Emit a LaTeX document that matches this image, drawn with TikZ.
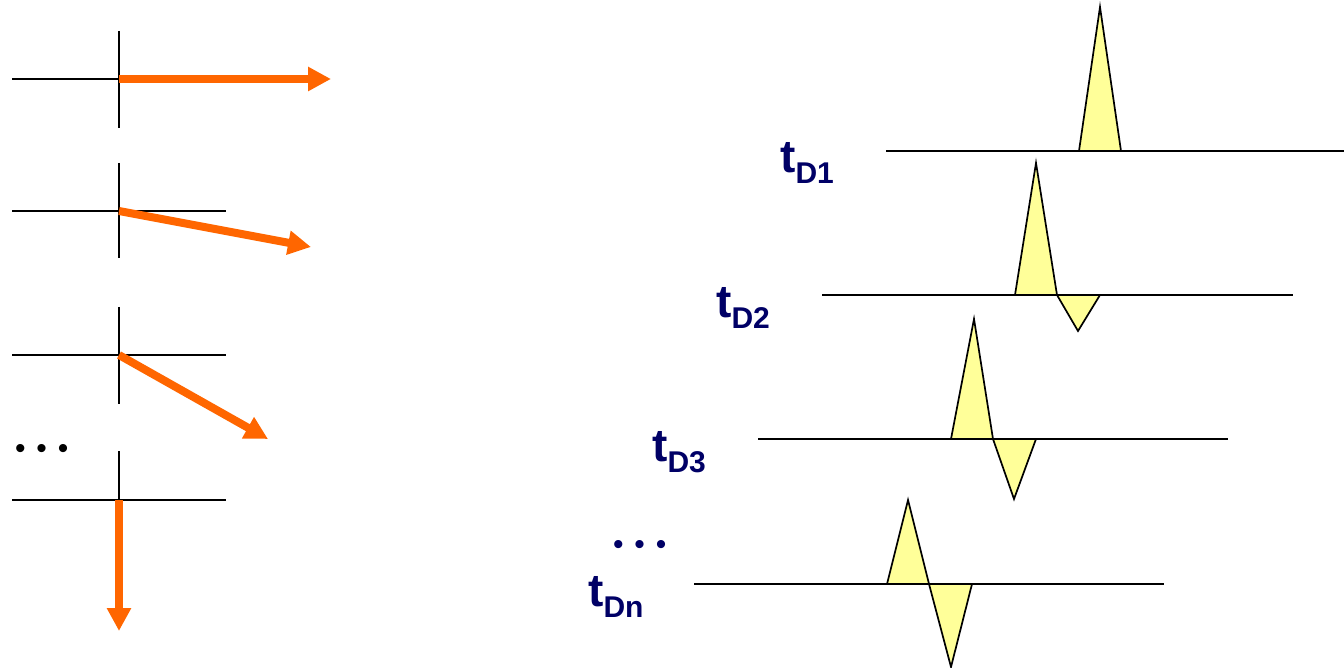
\documentclass[tikz,border=0pt]{standalone}
\usepackage{fontspec}
\setmainfont{Liberation Sans}
\usetikzlibrary{arrows.meta}
\definecolor{navy}{RGB}{0,0,102}
\definecolor{vecorange}{RGB}{255,102,0}
\definecolor{pulseyellow}{RGB}{255,255,153}
\newcommand{\tlab}[1]{t\raisebox{-11pt}{\fontsize{30}{30}\selectfont D#1}}
\newcommand{\threedots}{•\hspace{11pt}•\hspace{11pt}•}
\begin{document}
\begin{tikzpicture}[x=1pt,y=-1pt]
  \tikzset{ax/.style={draw,line width=1.5pt},
    vec/.style={draw=vecorange,line width=8pt,-{Triangle[length=23pt,width=23pt]}},
    pulse/.style={draw,fill=pulseyellow,line width=1.7pt,line join=miter},
    lbl/.style={anchor=base west,inner sep=0pt,text=navy,font=\fontsize{46}{46}\selectfont\bfseries},
    dots/.style={anchor=base west,inner sep=0pt,font=\fontsize{30}{30}\selectfont}}
  \useasboundingbox (0,0) rectangle (1344,668);
  % crosses on the left
  \coordinate (o1) at (119,79);
  \coordinate (o2) at (119,211);
  \coordinate (o3) at (119,355);
  \coordinate (o4) at (119,500);
  \coordinate (v1) at (331,79);
  \coordinate (v2) at (311,247);
  \coordinate (v3) at (268,439);
  \coordinate (v4) at (119,631);
  \draw[ax] (12,79) -- (226,79); \draw[ax] (119,31) -- (119,128);
  \draw[ax] (12,211) -- (226,211); \draw[ax] (119,163) -- (119,258);
  \draw[ax] (12,355) -- (226,355); \draw[ax] (119,307) -- (119,404);
  \draw[ax] (12,500) -- (226,500); \draw[ax] (119,451) -- (119,548);
  \draw[vec] (o1) -- (v1);
  \draw[vec] (o2) -- (v2);
  \draw[vec] (o3) -- (v3);
  \draw[vec] (o4) -- (v4);
  \node[dots] (ldots) at (14.8,458.8) {\threedots};
  % pulses on the right
  \draw[ax] (886,151) -- (1344,151);
  \draw[ax] (822,295) -- (1293,295);
  \draw[ax] (758,439) -- (1228,439);
  \draw[ax] (694,584) -- (1164,584);
  \draw[pulse] (1079,151) -- (1100,7) -- (1121,151) -- cycle;
  \draw[pulse] (1015,295) -- (1036,163) -- (1057,295) -- cycle;
  \draw[pulse] (1057,295) -- (1078,331) -- (1100,295) -- cycle;
  \draw[pulse] (951,439) -- (974,319) -- (993,439) -- cycle;
  \draw[pulse] (993,439) -- (1014,499) -- (1036,439) -- cycle;
  \draw[pulse] (887,584) -- (908,500) -- (929,584) -- cycle;
  \draw[pulse] (929,584) -- (951,667) -- (972,584) -- cycle;
  \node[lbl] (t1) at (780,173) {\tlab{1}};
  \node[lbl] (t2) at (716,317) {\tlab{2}};
  \node[lbl] (t3) at (652,461) {\tlab{3}};
  \node[lbl] (tn) at (588,606) {\tlab{n}};
  \node[dots,text=navy] (rdots) at (612.8,554.8) {\threedots};
\end{tikzpicture}
\end{document}
